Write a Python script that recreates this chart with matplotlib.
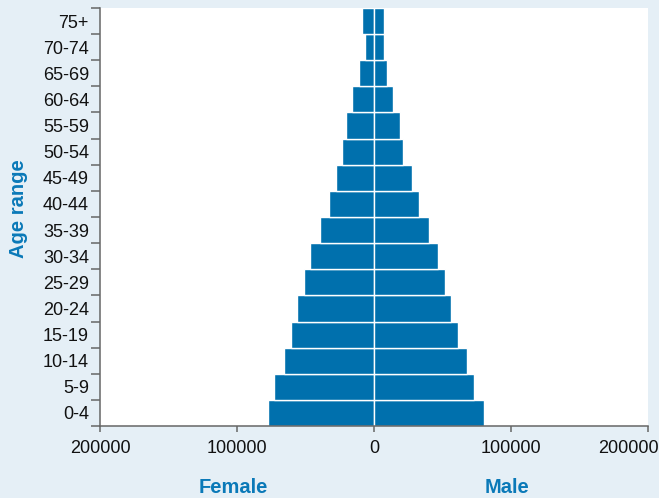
import matplotlib
matplotlib.use("Agg")
import matplotlib.pyplot as plt
import matplotlib.transforms as mtransforms
import numpy as np

age_groups = ["0-4", "5-9", "10-14", "15-19", "20-24", "25-29", "30-34", "35-39",
              "40-44", "45-49", "50-54", "55-59", "60-64", "65-69", "70-74", "75+"]
female = [77400, 72800, 65500, 60600, 56200, 51300, 46700, 39600,
          32600, 27700, 23100, 20700, 16100, 11200, 6600, 9000]
male = [80300, 73000, 68100, 61300, 56400, 51800, 47000, 40100,
        32800, 28000, 20900, 18700, 14100, 9300, 7100, 7100]
x_ticks = [-200000, -100000, 0, 100000, 200000]
x_tick_labels = ["200000", "100000", "0", "100000", "200000"]

plt.rcParams['font.family'] = ['Liberation Sans', 'DejaVu Sans']

BG = "#e5eff6"
BAR = "#0070ad"
LAB = "#0a79b8"
GRAY = "#666666"

fig = plt.figure(figsize=(6.59, 4.98), dpi=100, facecolor=BG)
ax = fig.add_axes([100/659, 1-426/498, 548/659, 418/498])
ax.set_facecolor("white")

y = np.arange(len(age_groups))
ax.barh(y, [-v for v in female], height=1.0, color=BAR, edgecolor="white", linewidth=1.0)
ax.barh(y, male, height=1.0, color=BAR, edgecolor="white", linewidth=1.0)

ax.set_xlim(-200000, 200000)
ax.set_ylim(-0.5, len(age_groups) - 0.5)

ax.set_yticks(y)
ax.set_yticklabels(age_groups, fontsize=13, color="#111111")
ax.set_yticks(np.arange(-0.5, len(age_groups)), minor=True)
ax.tick_params(axis='y', which='major', length=0, pad=8)
ax.tick_params(axis='y', which='minor', length=6.7, width=1.1, color=GRAY, direction='out')

ax.set_xticks(x_ticks)
shown = list(x_tick_labels)
shown[-1] = ""
ax.set_xticklabels(shown, fontsize=13, color="#111111")
ax.tick_params(axis='x', which='major', length=4.5, width=1.1, color=GRAY, direction='out', pad=5.5)

# last tick label is kept inside the figure, as in the reference
ax.text(1.0, 0, x_tick_labels[-1], ha="right", va="top", fontsize=13, color="#111111",
        transform=ax.transAxes + mtransforms.ScaledTranslation(11/100, -14/100, fig.dpi_scale_trans))

for s in ["top", "right"]:
    ax.spines[s].set_visible(False)
for s in ["left", "bottom"]:
    ax.spines[s].set_color(GRAY)
    ax.spines[s].set_linewidth(1.1)

ax.set_ylabel("Age range", fontsize=14.5, color=LAB, fontweight="semibold")
ax.yaxis.set_label_coords(-0.131, 0.52)

tr = ax.get_xaxis_transform()
ax.text(-103000, -0.148, "Female", transform=tr, ha="center", va="center",
        fontsize=14.5, color=LAB, fontweight="semibold")
ax.text(97000, -0.148, "Male", transform=tr, ha="center", va="center",
        fontsize=14.5, color=LAB, fontweight="semibold")

fig.savefig("out.png", dpi=100, facecolor=BG)
